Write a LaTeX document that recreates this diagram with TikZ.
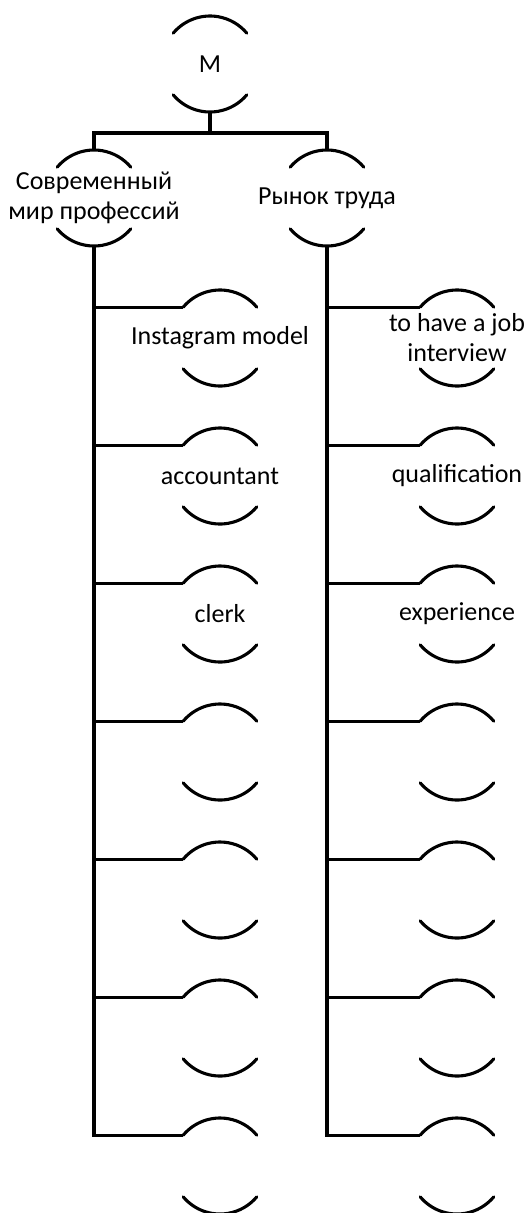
\documentclass[tikz,border=0pt]{standalone}
\usepackage{fontspec}
\setmainfont{Carlito}
\usepackage{tikz}
\usetikzlibrary{positioning,calc}

\begin{document}
\begin{tikzpicture}[
    hub/.style={circle, minimum size=2.4cm, inner sep=0pt, outer sep=0pt},
    txt/.style={align=center, inner sep=0pt, font=\fontsize{18.5}{21.3}\selectfont},
    arcline/.style={line width=2.2pt, draw=black, line cap=round},
    conn/.style={line width=2.2pt, draw=black}
]
\useasboundingbox (0,0) rectangle (13.2,-30.325);

% root and the two branches
\node[hub, label={[txt]center:М}] (m) at (5.25,-1.6) {};
\node[hub, label={[txt]center:{Современный\\мир профессий}}] (cL) at (2.35,-4.95) {};
\node[hub, label={[txt]center:Рынок труда}] (cR) at (8.175,-4.95) {};

% left column
\node[hub, label={[txt]center:Instagram model}] (l1) at (5.5,-8.45) {};
\node[hub, label={[txt]center:accountant}] (l2) at (5.5,-11.9) {};
\node[hub, label={[txt]center:clerk}] (l3) at (5.5,-15.35) {};
\node[hub] (l4) at (5.5,-18.8) {};
\node[hub] (l5) at (5.5,-22.25) {};
\node[hub] (l6) at (5.5,-25.7) {};
\node[hub] (l7) at (5.5,-29.15) {};

% right column
\node[hub, label={[txt]center:{to have a job\\interview}}] (r1) at (11.425,-8.45) {};
\node[hub, label={[txt]center:qualification}] (r2) at (11.425,-11.9) {};
\node[hub, label={[txt]center:experience}] (r3) at (11.425,-15.35) {};
\node[hub] (r4) at (11.425,-18.8) {};
\node[hub] (r5) at (11.425,-22.25) {};
\node[hub] (r6) at (11.425,-25.7) {};
\node[hub] (r7) at (11.425,-29.15) {};

% arcs above and below each label
\foreach \n in {m,cL,cR,l1,l2,l3,l4,l5,l6,l7,r1,r2,r3,r4,r5,r6,r7} {
  \draw[arcline] (\n.140) arc[start angle=140, end angle=40, radius=1.2cm];
  \draw[arcline] (\n.220) arc[start angle=220, end angle=320, radius=1.2cm];
}

% connectors
\draw[conn] (m.south) -- ++(0,-0.525) -| (cL.north);
\draw[conn] (m.south) -- ++(0,-0.525) -| (cR.north);
\foreach \k in {1,...,7} {
  \draw[conn] (cL.south) |- (l\k.140);
  \draw[conn] (cR.south) |- (r\k.140);
}
\end{tikzpicture}
\end{document}
